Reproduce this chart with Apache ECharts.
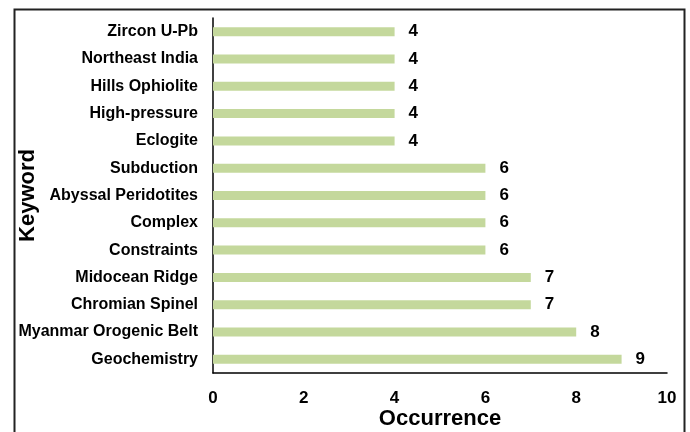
<!DOCTYPE html>
<html>
<head>
<meta charset="utf-8">
<script src="https://cdn.jsdelivr.net/npm/echarts@6/dist/echarts.min.js"></script>
<style>
html,body{margin:0;padding:0;background:#fff;}
#chart{width:690px;height:432px;}
</style>
</head>
<body>
<div id="chart"></div>
<script>
// Categories listed bottom to top
const keywords = [
  "Geochemistry",
  "Myanmar Orogenic Belt",
  "Chromian Spinel",
  "Midocean Ridge",
  "Constraints",
  "Complex",
  "Abyssal Peridotites",
  "Subduction",
  "Eclogite",
  "High-pressure",
  "Hills Ophiolite",
  "Northeast India",
  "Zircon U-Pb"
];
const occurrences = [9, 8, 7, 7, 6, 6, 6, 6, 4, 4, 4, 4, 4];
const xTicks = [0, 2, 4, 6, 8, 10];

const font = "'Liberation Sans', Arial, sans-serif";
const chart = echarts.init(document.getElementById('chart'), null, {renderer: 'canvas'});
chart.setOption({
  animation: false,
  backgroundColor: '#ffffff',
  graphic: [{
    type: 'rect',
    left: 12, top: 7,
    shape: {width: 670, height: 460},
    style: {fill: 'none', stroke: '#222', lineWidth: 2}
  }],
  grid: {left: 213, right: 23, top: 18, bottom: 59, containLabel: false, outerBoundsMode: 'none'},
  xAxis: {
    type: 'value',
    min: xTicks[0], max: xTicks[xTicks.length - 1], interval: 2,
    name: 'Occurrence',
    nameLocation: 'middle',
    nameGap: 35,
    nameMoveOverlap: false,
    nameTextStyle: {fontFamily: font, fontWeight: 'bold', fontSize: 22, color: '#000'},
    axisLine: {show: true, lineStyle: {color: '#000', width: 1.5}},
    axisTick: {show: false},
    splitLine: {show: false},
    axisLabel: {margin: 17, fontFamily: font, fontWeight: 'bold', fontSize: 17, color: '#000'}
  },
  yAxis: {
    type: 'category',
    data: keywords,
    name: 'Keyword',
    nameLocation: 'middle',
    nameGap: 174,
    nameRotate: 90,
    nameMoveOverlap: false,
    nameTextStyle: {fontFamily: font, fontWeight: 'bold', fontSize: 22, color: '#000'},
    axisLine: {show: true, lineStyle: {color: '#000', width: 1.5}},
    axisTick: {show: false},
    axisLabel: {margin: 15, fontFamily: font, fontWeight: 'bold', fontSize: 16, color: '#000'}
  },
  series: [{
    type: 'bar',
    data: occurrences,
    barWidth: 9,
    itemStyle: {color: '#c4d89c'},
    label: {
      show: true, position: 'right', distance: 14,
      fontFamily: font, fontWeight: 'bold', fontSize: 17, color: '#000'
    }
  }]
});
</script>
</body>
</html>
